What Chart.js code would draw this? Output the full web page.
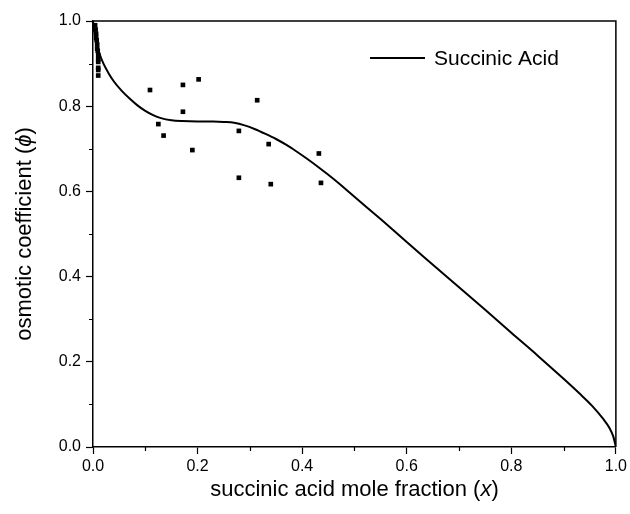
<!DOCTYPE html>
<html>
<head>
<meta charset="utf-8">
<script src="https://cdn.jsdelivr.net/npm/chart.js@4/dist/chart.umd.min.js"></script>
<style>
  html, body { margin: 0; padding: 0; background: #ffffff; }
  #c { display: block; }
</style>
</head>
<body>
<canvas id="c" width="630" height="514"></canvas>
<script>
// ---- data ----
const seriesName = "Succinic Acid";
const xTitle = ["succinic acid mole fraction (", "x", ")"];
const yTitle = ["osmotic coefficient (", "\u03d5", ")"];
const tickValues = [0.0, 0.2, 0.4, 0.6, 0.8, 1.0];
const minorTickValues = [0.1, 0.3, 0.5, 0.7, 0.9];

// model curve
const curveX = [0, 0.003, 0.007, 0.012, 0.02, 0.03, 0.04, 0.055, 0.07, 0.085, 0.10, 0.115, 0.13, 0.15, 0.17, 0.2, 0.23, 0.25, 0.27, 0.29, 0.31, 0.33, 0.35, 0.37, 0.39, 0.41, 0.43, 0.45, 0.47, 0.49, 0.51, 0.55, 0.6, 0.65, 0.7, 0.75, 0.8, 0.85, 0.9, 0.93, 0.955, 0.975, 0.988, 0.995, 1.0];
const curveY = [1.0, 0.972, 0.948, 0.925, 0.900, 0.877, 0.858, 0.836, 0.818, 0.802, 0.789, 0.779, 0.772, 0.767, 0.765, 0.764, 0.764, 0.763, 0.761, 0.755, 0.746, 0.735, 0.723, 0.709, 0.693, 0.676, 0.658, 0.639, 0.619, 0.598, 0.577, 0.535, 0.481, 0.428, 0.375, 0.322, 0.268, 0.215, 0.160, 0.126, 0.096, 0.067, 0.044, 0.025, 0.0];

// experimental points
const expX = [0.004, 0.005, 0.006, 0.006, 0.007, 0.008, 0.008, 0.009, 0.010, 0.010, 0.010, 0.010, 0.010, 0.010, 0.109, 0.172, 0.202, 0.172, 0.314, 0.125, 0.135, 0.190, 0.279, 0.336, 0.432, 0.279, 0.340, 0.436];
const expY = [0.99, 0.98, 0.97, 0.96, 0.955, 0.945, 0.935, 0.93, 0.92, 0.91, 0.904, 0.89, 0.885, 0.872, 0.838, 0.850, 0.863, 0.787, 0.814, 0.758, 0.731, 0.697, 0.742, 0.711, 0.689, 0.632, 0.617, 0.620];

const curveData = curveX.map((x, i) => ({ x: x, y: curveY[i] }));
const expData = expX.map((x, i) => ({ x: x, y: expY[i] }));

const FONT = "'Liberation Sans', Arial, sans-serif";

const framePlugin = {
  id: 'frame',
  afterDraw(chart) {
    const ctx = chart.ctx;
    const a = chart.chartArea;
    const xs = chart.scales.x, ys = chart.scales.y;
    ctx.save();
    ctx.strokeStyle = '#000';
    ctx.lineWidth = 1.5;
    ctx.beginPath();
    ctx.moveTo(a.left, a.top); ctx.lineTo(a.right, a.top); ctx.lineTo(a.right, a.bottom);
    ctx.stroke();
    // minor ticks
    ctx.lineWidth = 1.2;
    ctx.beginPath();
    minorTickValues.forEach(v => {
      const px = Math.round(xs.getPixelForValue(v)) + 0.5;
      ctx.moveTo(px, a.bottom); ctx.lineTo(px, a.bottom + 4);
      const py = Math.round(ys.getPixelForValue(v)) + 0.5;
      ctx.moveTo(a.left, py); ctx.lineTo(a.left - 4, py);
    });
    ctx.stroke();

    // axis titles with italic symbols
    function drawMixed(parts, cx, cy, rot) {
      ctx.save();
      ctx.translate(cx, cy);
      ctx.rotate(rot);
      const fonts = parts.map((p, i) => (i === 1 ? 'italic ' : '') + '22px ' + FONT);
      let total = 0;
      const widths = parts.map((p, i) => { ctx.font = fonts[i]; const w = ctx.measureText(p).width; total += w; return w; });
      let x = -total / 2;
      ctx.fillStyle = '#000';
      ctx.textBaseline = 'middle';
      ctx.textAlign = 'left';
      parts.forEach((p, i) => { ctx.font = fonts[i]; ctx.fillText(p, x, 0); x += widths[i]; });
      ctx.restore();
    }
    drawMixed(xTitle, (a.left + a.right) / 2, 490, 0);
    drawMixed(yTitle, 25, (a.top + a.bottom) / 2, -Math.PI / 2);

    // legend
    const lx0 = a.left + 277, lx1 = a.left + 332, ly = a.top + 37;
    ctx.strokeStyle = '#000';
    ctx.lineWidth = 2;
    ctx.beginPath(); ctx.moveTo(lx0, ly); ctx.lineTo(lx1, ly); ctx.stroke();
    ctx.font = '21px ' + FONT;
    ctx.fillStyle = '#000';
    ctx.textBaseline = 'middle';
    ctx.textAlign = 'left';
    ctx.fillText(seriesName, lx1 + 9, ly + 1);
    ctx.restore();
  }
};

new Chart(document.getElementById('c'), {
  type: 'scatter',
  data: {
    datasets: [
      {
        label: seriesName,
        data: curveData,
        showLine: true,
        borderColor: '#000',
        borderWidth: 2,
        pointRadius: 0,
        cubicInterpolationMode: 'monotone',
        fill: false
      },
      {
        label: 'experimental',
        data: expData,
        showLine: false,
        pointStyle: 'rect',
        pointRadius: 3.3,
        backgroundColor: '#000',
        borderColor: '#000',
        borderWidth: 0
      }
    ]
  },
  options: {
    responsive: false,
    animation: false,
    devicePixelRatio: 1,
    layout: { padding: { top: 21, right: 13, left: 0, bottom: 0 } },
    plugins: { legend: { display: false }, tooltip: { enabled: false } },
    scales: {
      x: {
        type: 'linear', min: 0, max: 1,
        afterFit(s) { s.height = 67; },
        afterBuildTicks(s) { s.ticks = tickValues.map(v => ({ value: v })); },
        ticks: { color: '#000', font: { family: FONT, size: 16 }, padding: 3, callback: v => v.toFixed(1), maxRotation: 0 },
        grid: { drawOnChartArea: false, tickLength: 7, tickColor: '#000', tickWidth: 1.2 },
        border: { color: '#000', width: 1.5 }
      },
      y: {
        type: 'linear', min: 0, max: 1,
        afterFit(s) { s.width = 93; },
        afterBuildTicks(s) { s.ticks = tickValues.map(v => ({ value: v })); },
        ticks: { color: '#000', font: { family: FONT, size: 16 }, padding: 5, callback: v => v.toFixed(1) },
        grid: { drawOnChartArea: false, tickLength: 7, tickColor: '#000', tickWidth: 1.2 },
        border: { color: '#000', width: 1.5 }
      }
    }
  },
  plugins: [framePlugin]
});
</script>
</body>
</html>
